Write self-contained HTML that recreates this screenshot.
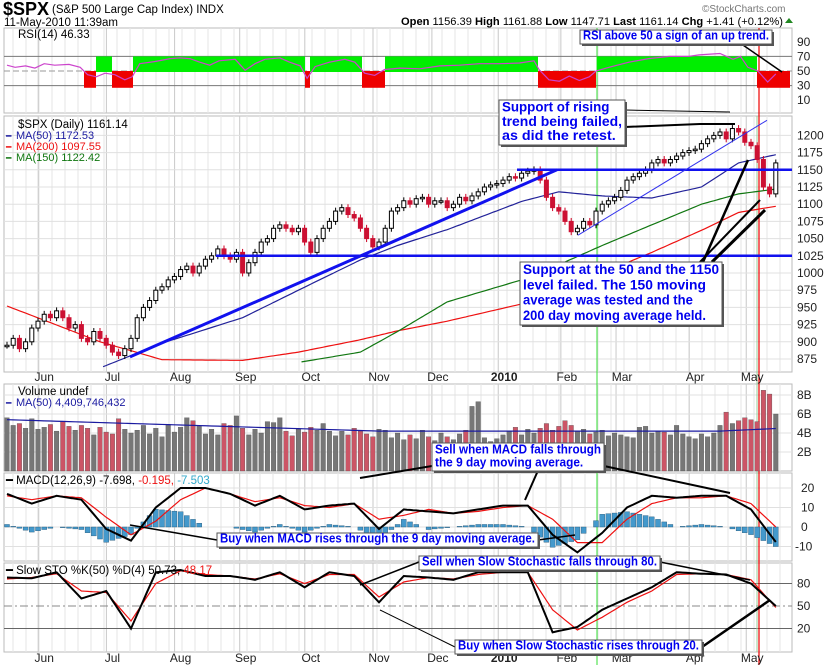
<!DOCTYPE html>
<html><head><meta charset="utf-8">
<style>
html,body{margin:0;padding:0;background:#fff;}
svg{display:block;font-family:"Liberation Sans",sans-serif;}
.ann{font-family:"Liberation Sans",sans-serif;font-weight:bold;fill:#0000ee;}
</style></head>
<body>
<svg id="chart" width="824" height="665" viewBox="0 0 824 665" xmlns="http://www.w3.org/2000/svg">
<g id="grid"></g>
<g id="marks"></g>
<g id="labels"></g>
<g id="anns"></g>
</svg>
<script>
// ---------- DATA ----------
const closes=[895,905,890,900,920,930,940,935,945,935,920,925,905,900,915,905,895,885,880,890,905,935,950,960,975,980,990,995,1005,1010,1000,1010,1020,1025,1035,1025,1020,1030,1000,1015,1030,1045,1050,1065,1070,1065,1060,1065,1045,1030,1050,1065,1075,1090,1095,1085,1080,1065,1050,1038,1045,1065,1090,1095,1105,1100,1108,1110,1100,1105,1105,1095,1100,1110,1105,1112,1118,1125,1128,1130,1135,1140,1138,1145,1148,1150,1135,1110,1095,1090,1075,1060,1065,1075,1070,1090,1100,1105,1110,1120,1135,1140,1145,1150,1160,1165,1160,1165,1170,1175,1178,1180,1188,1195,1200,1205,1195,1210,1205,1190,1185,1165,1125,1115,1160];
const volumes=[5.6,4.8,5.0,4.5,5.5,4.4,4.6,4.9,4.2,5.2,4.7,4.3,4.8,4.5,3.8,4.6,4.1,3.9,5.5,4.4,4.0,4.3,4.8,3.9,4.5,3.6,4.9,4.1,4.6,5.6,5.3,4.7,3.9,4.4,3.8,5.0,4.8,5.8,4.5,3.8,4.4,4.0,5.2,5.1,5.6,4.2,3.7,4.4,4.1,4.6,4.3,5.0,4.2,3.7,4.2,3.8,4.5,4.2,3.9,3.6,4.4,4.3,3.5,4.0,3.3,3.8,3.4,4.3,3.6,3.2,4.0,3.6,3.3,3.9,4.3,6.8,7.3,3.5,3.1,3.4,3.8,4.2,4.6,3.8,4.4,4.0,4.5,5.0,4.3,4.7,5.3,4.8,4.2,4.4,3.9,4.1,4.3,3.7,4.0,3.8,3.6,3.5,4.6,4.7,4.0,4.2,4.1,3.8,4.8,3.9,3.6,3.4,3.9,3.6,4.0,4.8,6.2,5.0,5.3,5.6,5.4,5.2,8.5,8.1,6.0];
const maIdx=[0,9,15,25,38,47,57,63,71,83,89,96,104,112,118,124];
const ma50=[null,null,862,898,935,975,1019,1040,1063,1104,1118,1112,1109,1125,1160,1172];
const ma200=[952,921,900,874,873,885,903,916,930,955,972,1000,1030,1062,1088,1097];
const ma150=[null,null,null,null,null,870,885,915,958,990,1012,1040,1070,1100,1115,1122];
const rsiIdx=[0,1.3,3,4.5,6,7.7,10,11.8,13,14.4,15.8,17.4,19,20.2,21.4,23.9,26.3,27.9,29.5,31.1,32.7,34.2,36.8,38.4,40,41.6,44,45.6,47.3,48.4,49.7,52,54.5,56.1,57.7,59.3,60.9,63.4,66.6,69.8,73,76.2,79.5,82.7,85,85.8,87.4,89.1,90.7,92.3,93.9,95,97.1,100.3,103.5,106.8,110,111.6,115,117.1,118.3,119.5,121.1,122.7,124];
const rsiVals=[58,55,57,54,60,58,59,55,45,42,47,45,38,42,60,63,67,68,67,62,58,64,66,51,60,66,68,62,57,40,56,62,66,62,47,44,52,54,53,57,58,60,60,61,64,52,38,36,43,37,42,50,55,62,67,70,70,72,74,66,70,55,50,35,46];
const oscIdx=[0,4,8,12,16,20,24,28,32,36,40,44,48,52,56,60,64,68,72,76,80,84,88,92,96,100,104,108,112,116,120,124];
const macdLine=[17,12,16,14,-1,-7,10,20,20,17,11,16,9,11,12,-1,9,8,7,9,11,11,-4,-13,-3,10,16,15,16,16,9,-7.7];
const macdSignal=[16,14,16,15,5,-4,3,14,20,17,13,15,11,10,12,4,6,9,7,8,10,11,4,-8,-8,4,12,15,15,16,12,0];
const stoK=[88,87,95,60,70,20,95,98,90,90,85,95,75,95,90,55,90,88,85,95,95,95,15,22,45,60,75,95,93,92,80,50];
const stoD=[86,88,93,70,68,30,80,97,92,90,86,93,80,92,92,62,82,88,86,92,95,95,45,18,35,55,70,92,93,92,85,48];
const priceTicks=[1200,1175,1150,1125,1100,1075,1050,1025,1000,975,950,925,900,875];
const months=["Jun","Jul","Aug","Sep","Oct","Nov","Dec","2010","Feb","Mar","Apr","May"];
const monthIdx=[6,17,28,38.5,49,60,69.5,80.2,90.3,99.2,111,120.2];
const volTicks=[8,6,4,2];
const macdTicks=[20,10,0,-10];
const stoTicks=[80,50,20];
const rsiTicks=[90,70,50,30,10];

// ---------- AXES ----------
const NS="http://www.w3.org/2000/svg";
const L=4,R=792;
const xOf=i=>7+i*6.2;
const yP=p=>359-(p-875)*0.688;
const yR=r=>71-(r-50)*0.73;
const yV=v=>471-v*9.5;
const yM=m=>527-m*1.95;
const yS=s=>606-(s-50)*0.75;
function mk(parent,tag,attrs,txt){const e=document.createElementNS(NS,tag);for(const k in attrs)e.setAttribute(k,attrs[k]);if(txt!==undefined)e.textContent=txt;document.getElementById(parent).appendChild(e);return e;}
function interp(idx,vals,i){for(let k=0;k<idx.length-1;k++){if(i>=idx[k]&&i<=idx[k+1]){const a=vals[k],b=vals[k+1];if(a==null||b==null)return null;const t=(i-idx[k])/(idx[k+1]-idx[k]);return a+(b-a)*t;}}return null;}
function path(idx,vals,yf){let d="";let pen=false;for(let k=0;k<idx.length;k++){if(vals[k]==null){pen=false;continue;}d+=(pen?"L":"M")+xOf(idx[k]).toFixed(1)+","+yf(vals[k]).toFixed(1);pen=true;}return d;}
function smooth(idx,vals,yf){let d="";for(let i=idx[0];i<=idx[idx.length-1];i+=0.5){const v=interp(idx,vals,i);if(v==null)continue;d+=(d?"L":"M")+xOf(i).toFixed(1)+","+yf(v).toFixed(1);}return d;}

const panels=[["rsi",28,113],["price",116,372],["volume",384,471],["macd",473,561],["stoch",563,652]];
panels.forEach(p=>{
  const r=mk("grid","rect",{x:L,y:p[1],width:R-L,height:p[2]-p[1],fill:"#fff",stroke:"#bbb","stroke-width":1});
  
  
  for(let x=L+9;x<R;x+=13){mk("grid","line",{x1:x,x2:x,y1:p[1],y2:p[2],stroke:"#e6e6e6","stroke-width":1});}
  monthIdx.forEach(mi=>{const x=xOf(mi)-6;mk("grid","line",{x1:x,x2:x,y1:p[1],y2:p[2],stroke:"#c8c8c8","stroke-width":1});});
});
priceTicks.forEach(t=>{mk("grid","line",{x1:L,x2:R,y1:yP(t),y2:yP(t),stroke:"#e0e0e0"});
 const tx=mk("labels","text",{x:797,y:yP(t)+4,"font-size":12,fill:"#222"},t);
 
 });
rsiTicks.forEach(t=>{const tx=mk("labels","text",{x:797,y:yR(t)+4,"font-size":12,fill:"#222"},t);
 
 });
[70,30].forEach(t=>mk("grid","line",{x1:L,x2:R,y1:yR(t),y2:yR(t),stroke:"#777"}));
mk("grid","line",{x1:L,x2:R,y1:yR(50),y2:yR(50),stroke:"#999","stroke-dasharray":"6,3"});
volTicks.forEach(t=>{mk("grid","line",{x1:L,x2:R,y1:yV(t),y2:yV(t),stroke:"#e0e0e0"});
 const tx=mk("labels","text",{x:797,y:yV(t)+4,"font-size":12,fill:"#222"},t+"B");
 
 });
macdTicks.forEach(t=>{mk("grid","line",{x1:L,x2:R,y1:yM(t),y2:yM(t),stroke:"#e0e0e0"});
 const tx=mk("labels","text",{x:t<0?795:801,y:yM(t)+4,"font-size":12,fill:"#222"},t);
 
 });
stoTicks.forEach(t=>{mk("grid","line",{x1:L,x2:R,y1:yS(t),y2:yS(t),stroke:t==50?"#888":"#666","stroke-dasharray":t==50?"8,3,2,3":"none"});
 const tx=mk("labels","text",{x:797,y:yS(t)+4,"font-size":12,fill:"#222"},t);
 
 });
months.forEach((m,k)=>{[381,662].forEach(y=>{const tx=mk("labels","text",{x:xOf(monthIdx[k]),y:y,"font-size":12,"text-anchor":"middle",fill:"#222","font-weight":m=="2010"?"bold":"normal"},m);
 
 });});

mk("marks","line",{x1:597,x2:597,y1:28,y2:665,stroke:"#33dd33","stroke-width":1});
mk("marks","line",{x1:757,x2:757,y1:116,y2:652,stroke:"#99cc99","stroke-width":1});
mk("marks","line",{x1:759,x2:759,y1:28,y2:665,stroke:"#ee0000","stroke-width":1.2});

// ---------- RSI ----------
const rsiZones=[[84,96,"r"],[96,112,"g"],[112,133,"r"],[133,305,"g"],[305,310,"r"],[310,362,"g"],[362,385,"r"],[385,538,"g"],[538,596,"r"],[597,757,"g"],[757,790,"r"]];
rsiZones.forEach(z=>{const e=mk("marks","rect",{x:z[0],width:z[1]-z[0],y:z[2]=="g"?yR(70):yR(50),height:z[2]=="g"?yR(50)-yR(70)+1:yR(27)-yR(50),fill:z[2]=="g"?"#00ee00":"#ee0000"});
 
 });
const rsiLine=mk("marks","path",{d:path(rsiIdx,rsiVals,yR),fill:"none",stroke:"#cc44cc","stroke-width":1.2});



// ---------- PRICE ----------
[[ma200,"#ee1111","ma200-line"],[ma150,"#117711","ma150-line"],[ma50,"#222299","ma50-line"]].forEach(m=>{
 const e=mk("marks","path",{d:smooth(maIdx,m[0],yP),fill:"none",stroke:m[1],"stroke-width":1.2});
 
 });
for(let i=0;i<closes.length;i++){
 const c=closes[i],o=i>0?closes[i-1]:c;const up=c>=o;const x=xOf(i);
 const hi=Math.max(o,c)+5,lo=Math.min(o,c)-5;
 mk("marks","line",{x1:x,x2:x,y1:yP(hi),y2:yP(lo),stroke:up?"#000":"#cc0022","stroke-width":1});
 const top=yP(Math.max(o,c)),h=Math.max(1.5,yP(Math.min(o,c))-top);
 const b=mk("marks","rect",{x:x-2,y:top,width:4,height:h,fill:up?"#fff":"#cc1133",stroke:up?"#000":"#cc1133","stroke-width":1});
 
 
}
mk("marks","line",{x1:130,y1:yP(878),x2:557,y2:yP(1150),stroke:"#1111ee","stroke-width":3});
mk("marks","line",{x1:216,y1:yP(1025),x2:792,y2:yP(1025),stroke:"#1111ee","stroke-width":2.5});
mk("marks","line",{x1:517,y1:yP(1150),x2:792,y2:yP(1150),stroke:"#1111ee","stroke-width":2.5});
mk("marks","line",{x1:578,y1:yP(1055),x2:767,y2:yP(1222),stroke:"#3333ee","stroke-width":1});

// ---------- VOLUME ----------
const n=Math.min(volumes.length,closes.length);
for(let i=0;i<n;i++){const up=i==0||closes[i]>=closes[i-1];
 const b=mk("marks","rect",{x:xOf(i)-2.3,y:yV(volumes[i]),width:4.6,height:yV(0)-yV(volumes[i]),fill:up?"#777":"#cc5566",stroke:"#444","stroke-width":0.3});
 
 }
const vma=[];for(let i=0;i<n;i++){vma.push(5.4-1.2*Math.min(1,i/60)+(i>115?(i-115)*0.03:0));}
let vd="";vma.forEach((v,i)=>vd+=(i?"L":"M")+xOf(i)+","+yV(v));
mk("marks","path",{d:vd,fill:"none",stroke:"#1a1aa0","stroke-width":1.2});

// ---------- MACD ----------
for(let i=0;i<=124;i++){const a=interp(oscIdx,macdLine,i),b=interp(oscIdx,macdSignal,i);if(a==null||b==null)continue;const h=(a-b)*1.3;
 const r=mk("marks","rect",{x:xOf(i)-2.5,y:Math.min(yM(0),yM(h)),width:5,height:Math.abs(yM(h)-yM(0)),fill:"#4499cc",stroke:"#225577","stroke-width":0.4});
 
 }
const ms=mk("marks","path",{d:smooth(oscIdx,macdSignal,yM),fill:"none",stroke:"#ee1111","stroke-width":1.2});


const ml=mk("marks","path",{d:smooth(oscIdx,macdLine,yM),fill:"none",stroke:"#000","stroke-width":2});



// ---------- STOCH ----------
const sd=mk("marks","path",{d:smooth(oscIdx,stoD,yS),fill:"none",stroke:"#ee1111","stroke-width":1.2});


const sk=mk("marks","path",{d:smooth(oscIdx,stoK,yS),fill:"none",stroke:"#000","stroke-width":2});



// ---------- HEADER / LEGENDS ----------
function txt(x,y,s,attrs,name){const a=Object.assign({x:x,y:y,"font-size":11,fill:"#000"},attrs||{});const e=mk("labels","text",a,s);
 
 return e;}
txt(3,15,"$SPX",{"font-size":18,"font-weight":"bold"},"chart-symbol");
txt(52,13,"(S&P 500 Large Cap Index) INDX",{"font-size":11.5},"chart-title");
txt(4,26,"11-May-2010 11:39am",{"font-size":11.5},"chart-date");
txt(702,12,"©StockCharts.com",{"font-size":10,fill:"#777"},"copyright");
const q=mk("labels","text",{x:401,y:25,"font-size":11,textLength:382,lengthAdjust:"spacingAndGlyphs"});


[["Open","b"],[" 1156.39 ",""],["High","b"],[" 1161.88 ",""],["Low","b"],[" 1147.71 ",""],["Last","b"],[" 1161.14 ",""],["Chg","b"],[" +1.41 (+0.12%)",""]].forEach(p=>{const t=document.createElementNS(NS,"tspan");if(p[1])t.setAttribute("font-weight","bold");t.textContent=p[0];q.appendChild(t);});
mk("labels","path",{d:"M785,23 L789,18 L793,23 Z",fill:"#228822"});
txt(18,38,"RSI(14) 46.33",{"font-size":11.5},"rsi-legend");
txt(18,128,"$SPX (Daily) 1161.14",{"font-size":11.5},"price-legend");
txt(6,139,"━",{"font-size":9,fill:"#1a1aa0"},"ma50-swatch");txt(16,139,"MA(50) 1172.53",{fill:"#1a1aa0"},"ma50-legend");
txt(6,150,"━",{"font-size":9,fill:"#ee1111"},"ma200-swatch");txt(16,150,"MA(200) 1097.55",{fill:"#ee1111"},"ma200-legend");
txt(6,161,"━",{"font-size":9,fill:"#117711"},"ma150-swatch");txt(16,161,"MA(150) 1122.42",{fill:"#117711"},"ma150-legend");
txt(18,395,"Volume undef",{"font-size":11.5},"volume-legend");
txt(6,406,"━",{"font-size":9,fill:"#1a1aa0"},"vol-ma-swatch");txt(16,406,"MA(50) 4,409,746,432",{fill:"#1a1aa0"},"volume-ma-legend");
const mt=txt(6,484,"━ MACD(12,26,9) -7.698, ",{"font-size":11.5},"macd-legend");
let ts=document.createElementNS(NS,"tspan");ts.setAttribute("fill","#ee1111");ts.textContent="-0.195, ";mt.appendChild(ts);
ts=document.createElementNS(NS,"tspan");ts.setAttribute("fill","#33aacc");ts.textContent="-7.503";mt.appendChild(ts);
const st=txt(6,574,"━ Slow STO %K(50) %D(4) 50.73, ",{"font-size":11.5},"stoch-legend");
ts=document.createElementNS(NS,"tspan");ts.setAttribute("fill","#ee1111");ts.textContent="48.17";st.appendChild(ts);

// ---------- ANNOTATIONS ----------
function pointer(pts,w){mk("anns","polyline",{points:pts,fill:"none",stroke:"#000","stroke-width":w||2});}
pointer("740,43 782,72",1.5);
pointer("625,127 700,124 735,124",2);pointer("625,110 730,112",1);
pointer("703,262 748,160",2.5);pointer("700,262 760,200",2);pointer("712,262 765,210",3);
pointer("604,466 730,493",2);pointer("540,466 525,500",2);pointer("432,466 360,478",2);
pointer("217,540 130,525",1.5);pointer("538,540 575,535",1.5);
pointer("660,562 750,580",1.5);pointer("419,562 360,585",1.5);
pointer("702,647 770,600",2.5);pointer("455,647 380,610",1);
function box(x,y,w,h,lines,fs,name){
 mk("anns","rect",{x:x+2,y:y+2,width:w,height:h,fill:"#555"});
 const r=mk("anns","rect",{x:x,y:y,width:w,height:h,fill:"#fff",stroke:"#555","stroke-width":1});
 
 
 const maxc=Math.max(...lines.map(l=>l.length));
 const lh=(h-2)/lines.length;
 lines.forEach((l,k)=>{const tl=((w-6)*l.length/maxc).toFixed(1);
  const t=mk("anns","text",{x:x+3,y:y+lh*(k+1)-lh*0.2,"font-size":fs,class:"ann",textLength:tl,lengthAdjust:"spacingAndGlyphs"},l);
  
  });}
box(580,30,192,14,["RSI above 50 a sign of an up trend."],12.5,"rsi-annotation");
box(499,100,126,45,["Support of rising","trend being failed,","as did the retest."],14,"trend-annotation");
box(520,262,202,63,["Support at the 50 and the 1150","level failed. The 150 moving","average was tested and the","200 day moving average held."],14,"support-annotation");
box(432,443,172,28,["Sell when MACD falls through","the 9 day moving average."],12.5,"macd-sell-annotation");
box(217,533,321,14,["Buy when MACD rises through the 9 day moving average."],12.5,"macd-buy-annotation");
box(419,556,241,14,["Sell when Slow Stochastic falls through 80."],12.5,"stoch-sell-annotation");
box(455,640,247,14,["Buy when Slow Stochastic rises through 20."],12.5,"stoch-buy-annotation");
</script>
</body></html>
